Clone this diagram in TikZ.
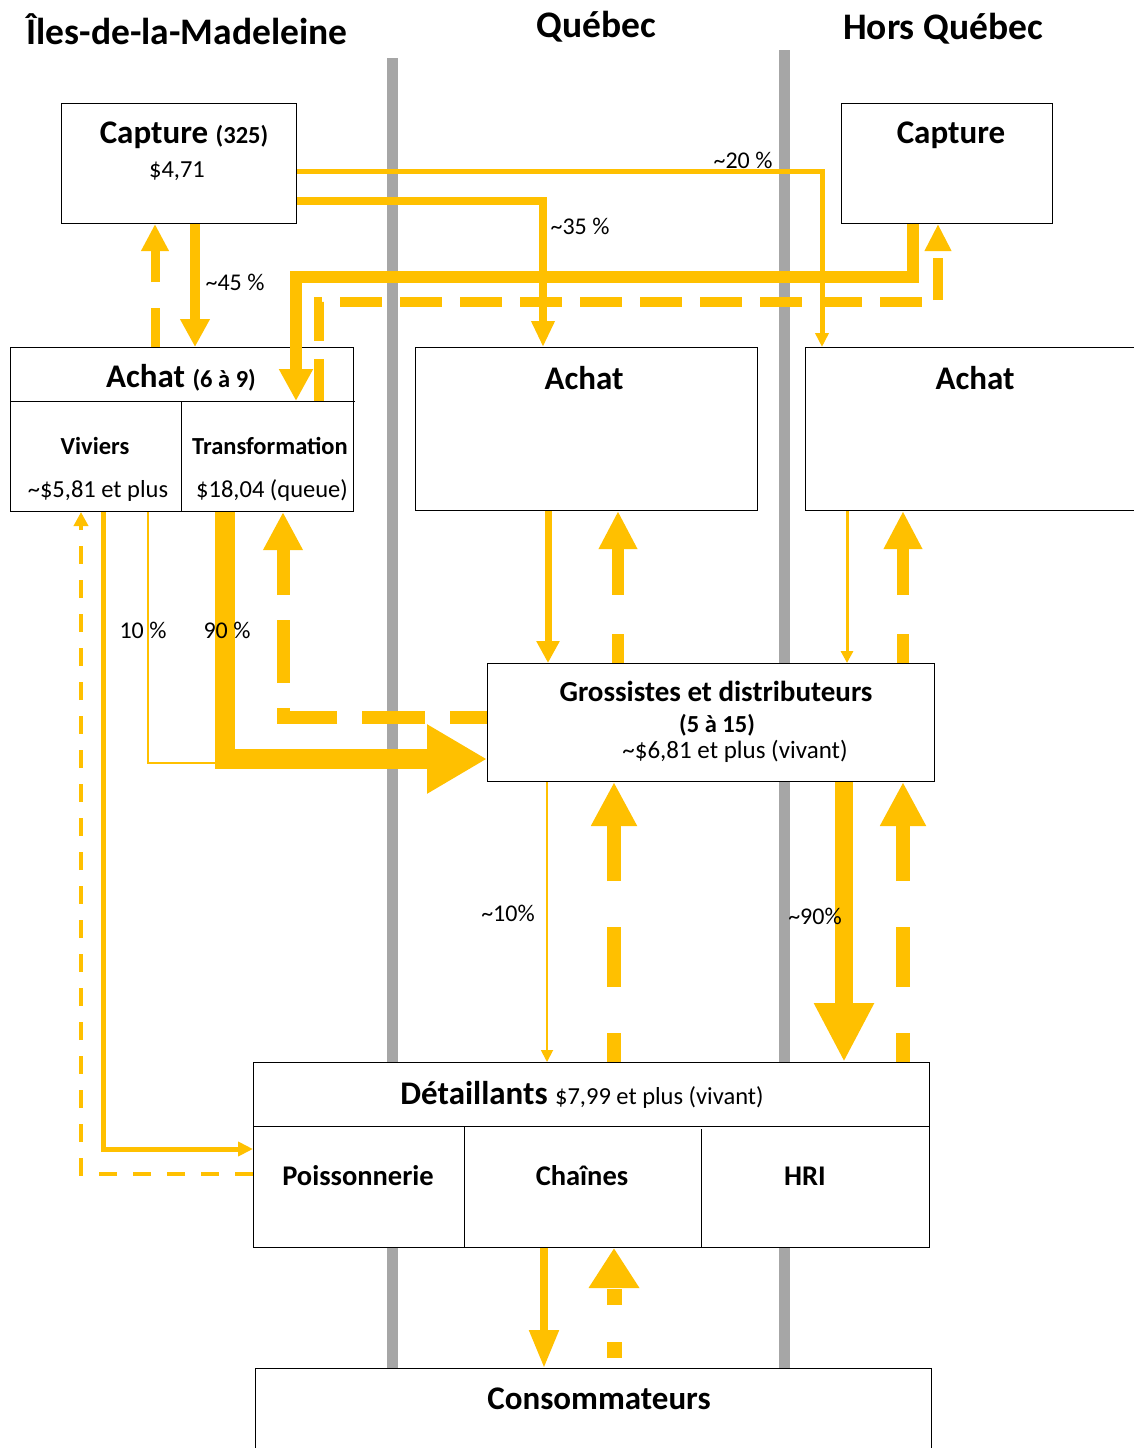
\documentclass[tikz,border=0pt]{standalone}
\usepackage{fontspec}
\setmainfont{Carlito}
\usetikzlibrary{arrows.meta}
\definecolor{yel}{HTML}{FFC000}
\definecolor{lane}{HTML}{A6A6A6}
\newcommand{\fsz}[1]{\fontsize{#1}{#1}\selectfont}
\begin{document}
\begin{tikzpicture}[x=1pt,y=-1pt,
  box/.style={draw=black, line width=1pt, fill=white, rectangle, inner sep=0pt, anchor=north west},
  sep/.style={draw=black, line width=1pt},
  lanestyle/.style={draw=lane, line width=11pt},
  title/.style={inner sep=0pt, font=\fsz{37.5}\bfseries},
  head/.style={inner sep=0pt, font=\fsz{33}\bfseries},
  sub/.style={inner sep=0pt, font=\fsz{24.5}\bfseries},
  txt/.style={inner sep=0pt, font=\fsz{24.5}},
  cell/.style={inner sep=0pt, font=\fsz{28.5}\bfseries},
  pct/.style={inner sep=0pt, font=\fsz{24}},
  flow/.style={draw=yel, line width=#1, line join=miter},
]
\useasboundingbox (0,0) rectangle (1134,1448);
\fill[white] (0,0) rectangle (1134,1448);

% lanes
\coordinate (l1t) at (392,58);  \coordinate (l1b) at (392,1368);
\coordinate (l2t) at (784,50);  \coordinate (l2b) at (784,1368);
\draw[lanestyle] (l1t) -- (l1b);
\draw[lanestyle] (l2t) -- (l2b);

% boxes
\node[box, minimum width=235, minimum height=120] (capL) at (61,103) {};
\node[box, minimum width=343, minimum height=164] (achL) at (10,347) {};
\coordinate (achLsplitW) at (10,401);
\coordinate (achLsplitE) at (355,401);
\draw[sep] (achLsplitW) -- (achLsplitE);
\coordinate (achLdivT) at (181,401);
\draw[sep] (achLdivT) -- (achLdivT |- achL.south);
\node[box, minimum width=342, minimum height=163] (achQ) at (415,347) {};
\node[box, minimum width=211, minimum height=120] (capH) at (841,103) {};
\node[box, minimum width=345, minimum height=163] (achH) at (805,347) {};
\node[box, minimum width=447, minimum height=118] (gros) at (487,663) {};
\node[box, minimum width=676, minimum height=185] (det) at (253,1062) {};
\coordinate (detsplitW) at (253,1126);
\coordinate (detsplitE) at (929,1126);
\draw[sep] (detsplitW) -- (detsplitE);
\coordinate (detd1) at (464,1126);
\coordinate (detd2) at (701,1129);
\draw[sep] (detd1) -- (detd1 |- det.south);
\draw[sep] (detd2) -- (detd2 |- det.south);
\node[box, minimum width=676, minimum height=100] (cons) at (255,1368) {};

% arrows: Capture IdlM <-> Achat IdlM
\draw[flow=10pt, -{Triangle[width=28pt,length=28pt]}] (195,0 |- capL.south) -- (195,0 |- achL.north);
\draw[flow=9pt, dash pattern=on 39pt off 26pt, -{Triangle[width=26pt,length=27pt]}] (155,0 |- achL.north) -- (155,0 |- capL.south);

% Capture -> Achat Quebec (35%) and Achat HQ (20%)
\draw[flow=5pt, -{Triangle[width=13pt,length=14pt]}] (capL.east |- 0,171) -- (822,171) -- (822,0 |- achH.north);
\draw[flow=8pt, -{Triangle[width=22pt,length=26pt]}] (capL.east |- 0,201) -- (543,201) -- (543,0 |- achQ.north);

% Capture HQ -> Transformation and back
\draw[flow=12pt, -{Triangle[width=32pt,length=32pt]}] (913,0 |- capH.south) -- (913,277) -- (296,277) -- (296,0 |- achLsplitW);
\draw[flow=10pt, dash pattern=on 42pt off 18pt, -{Triangle[width=25pt,length=27pt]}] (319,0 |- achLsplitW) -- (319,302) -- (938,302) -- (938,0 |- capH.south);

% Viviers <-> Poissonnerie
\draw[flow=5pt, -{Triangle[width=14pt,length=15pt]}] (103,0 |- achL.south) -- (103,1149) -- (det.west |- 0,1149);
\draw[flow=4.5pt, dash pattern=on 18pt off 16pt, -{Triangle[width=14pt,length=14pt]}] (det.west |- 0,1174) -- (81,1174) -- (81,0 |- achL.south);

% 10% and 90% to Grossistes
\coordinate (j10) at (225,763);
\draw[flow=2pt] (148,0 |- achL.south) -- (148,763) -- (j10);
\draw[flow=20pt, -{Triangle[width=65pt,length=60pt]}] (225,0 |- achL.south) -- (225,759) -- (gros.west |- 0,759);
\draw[flow=13pt, dash pattern=on 63pt off 25pt, dash phase=26pt, -{Triangle[width=37pt,length=38pt]}] (gros.west |- 0,717) -- (283,717) -- (283,0 |- achL.south);

% Achat Quebec <-> Grossistes
\draw[flow=7pt, -{Triangle[width=22pt,length=22pt]}] (548,0 |- achQ.south) -- (548,0 |- gros.north);
\draw[flow=12pt, dash pattern=on 29pt off 39pt on 200pt off 1pt, -{Triangle[width=36pt,length=38pt]}] (618,0 |- gros.north) -- (618,0 |- achQ.south);

% Achat HQ <-> Grossistes
\draw[flow=3pt, -{Triangle[width=12pt,length=12pt]}] (847,0 |- achH.south) -- (847,0 |- gros.north);
\draw[flow=12pt, dash pattern=on 29pt off 39pt on 200pt off 1pt, -{Triangle[width=36pt,length=38pt]}] (903,0 |- gros.north) -- (903,0 |- achH.south);

% Grossistes <-> Detaillants
\draw[flow=1.8pt, -{Triangle[width=12pt,length=12pt]}] (547,0 |- gros.south) -- (547,0 |- det.north);
\draw[flow=14pt, dash pattern=on 60pt off 46pt, dash phase=31pt, -{Triangle[width=43pt,length=44pt]}] (614,0 |- det.north) -- (614,0 |- gros.south);
\draw[flow=18pt, -{Triangle[width=56pt,length=59pt]}] (844,0 |- gros.south) -- (844,0 |- det.north);
\draw[flow=14pt, dash pattern=on 60pt off 46pt, dash phase=31pt, -{Triangle[width=43pt,length=44pt]}] (903,0 |- det.north) -- (903,0 |- gros.south);

% Detaillants <-> Consommateurs
\draw[flow=8pt, -{Triangle[width=28pt,length=38pt]}] (544,0 |- det.south) -- (544,0 |- cons.north);
\draw[flow=15pt, dash pattern=on 16pt off 37pt, dash phase=43pt, -{Triangle[width=48pt,length=40pt]}] (614,0 |- cons.north) -- (614,0 |- det.south);

% titles
\node[title] (tL) at (187,29) {Îles-de-la-Madeleine};
\node[title] (tQ) at (596,27) {Québec};
\node[title] (tH) at (943,29) {Hors Québec};

% box texts
\node[inner sep=0pt] (capLt) at (184,135) {{\fsz{33}\bfseries Capture }{\fsz{24.5}\bfseries (325)}};
\node[txt] (capLp) at (177,171) {\$4,71};
\node[inner sep=0pt] (achLt) at (181,378) {{\fsz{33}\bfseries Achat }{\fsz{24.5}\bfseries (6 à 9)}};
\node[sub] (viv) at (95,446) {Viviers};
\node[txt] (vivp) at (98,491) {\textasciitilde\$5,81 et plus};
\node[sub] (trf) at (270,446) {Transformation};
\node[txt] (trfp) at (272,491) {\$18,04 (queue)};
\node[head] (achQt) at (584,378) {Achat};
\node[head] (capHt) at (951,135) {Capture};
\node[head] (achHt) at (975,378) {Achat};
\node[inner sep=0pt, font=\fsz{29}\bfseries] (grost) at (716,691) {Grossistes et distributeurs};
\node[sub] (grosn) at (717,725) {(5 à 15)};
\node[inner sep=0pt, font=\fsz{25}] (grosp) at (735,751) {\textasciitilde\$6,81 et plus (vivant)};
\node[inner sep=0pt] (dett) at (582,1095) {{\fsz{33}\bfseries Détaillants }{\fsz{24.5}\$7,99 et plus (vivant)}};
\node[cell] (poi) at (358,1176) {Poissonnerie};
\node[cell] (cha) at (582,1176) {Chaînes};
\node[cell] (hri) at (805,1176) {HRI};
\node[head] (const) at (599,1399) {Consommateurs};

% percentages
\node[pct] (p45) at (235,282) {\textasciitilde 45 \%};
\node[pct] (p35) at (580,226) {\textasciitilde 35 \%};
\node[pct] (p20) at (743,160) {\textasciitilde 20 \%};
\node[pct] (p10) at (143,630) {10 \%};
\node[pct] (p90) at (227,630) {90 \%};
\node[pct] (q10) at (508,913) {\textasciitilde 10\%};
\node[pct] (q90) at (815,916) {\textasciitilde 90\%};
\end{tikzpicture}
\end{document}
